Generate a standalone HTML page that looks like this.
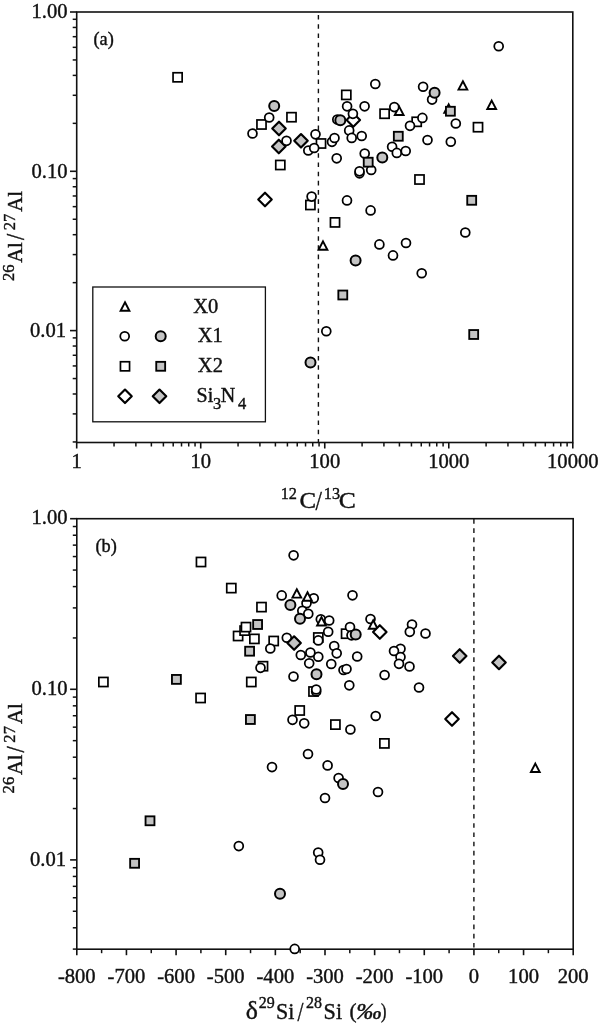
<!DOCTYPE html>
<html><head><meta charset="utf-8"><style>
html,body{margin:0;padding:0;background:#fff;}
svg{display:block;will-change:transform;}
text{font-family:"Liberation Serif",serif;fill:#111;stroke:#111;stroke-width:0.4px;}
</style></head><body>
<svg width="600" height="1026" viewBox="0 0 600 1026">
<rect x="76.7" y="12.0" width="496.10" height="430.50" fill="none" stroke="#111" stroke-width="1.6"/>
<line x1="70.00" y1="12.00" x2="76.7" y2="12.00" stroke="#111" stroke-width="1.6"/>
<line x1="70.00" y1="171.30" x2="76.7" y2="171.30" stroke="#111" stroke-width="1.6"/>
<line x1="70.00" y1="330.60" x2="76.7" y2="330.60" stroke="#111" stroke-width="1.6"/>
<line x1="72.70" y1="123.35" x2="76.7" y2="123.35" stroke="#111" stroke-width="1.5"/>
<line x1="72.70" y1="95.29" x2="76.7" y2="95.29" stroke="#111" stroke-width="1.5"/>
<line x1="72.70" y1="75.39" x2="76.7" y2="75.39" stroke="#111" stroke-width="1.5"/>
<line x1="72.70" y1="59.95" x2="76.7" y2="59.95" stroke="#111" stroke-width="1.5"/>
<line x1="72.70" y1="47.34" x2="76.7" y2="47.34" stroke="#111" stroke-width="1.5"/>
<line x1="72.70" y1="36.68" x2="76.7" y2="36.68" stroke="#111" stroke-width="1.5"/>
<line x1="72.70" y1="27.44" x2="76.7" y2="27.44" stroke="#111" stroke-width="1.5"/>
<line x1="72.70" y1="19.29" x2="76.7" y2="19.29" stroke="#111" stroke-width="1.5"/>
<line x1="72.70" y1="282.65" x2="76.7" y2="282.65" stroke="#111" stroke-width="1.5"/>
<line x1="72.70" y1="254.59" x2="76.7" y2="254.59" stroke="#111" stroke-width="1.5"/>
<line x1="72.70" y1="234.69" x2="76.7" y2="234.69" stroke="#111" stroke-width="1.5"/>
<line x1="72.70" y1="219.25" x2="76.7" y2="219.25" stroke="#111" stroke-width="1.5"/>
<line x1="72.70" y1="206.64" x2="76.7" y2="206.64" stroke="#111" stroke-width="1.5"/>
<line x1="72.70" y1="195.98" x2="76.7" y2="195.98" stroke="#111" stroke-width="1.5"/>
<line x1="72.70" y1="186.74" x2="76.7" y2="186.74" stroke="#111" stroke-width="1.5"/>
<line x1="72.70" y1="178.59" x2="76.7" y2="178.59" stroke="#111" stroke-width="1.5"/>
<line x1="72.70" y1="441.95" x2="76.7" y2="441.95" stroke="#111" stroke-width="1.5"/>
<line x1="72.70" y1="413.89" x2="76.7" y2="413.89" stroke="#111" stroke-width="1.5"/>
<line x1="72.70" y1="393.99" x2="76.7" y2="393.99" stroke="#111" stroke-width="1.5"/>
<line x1="72.70" y1="378.55" x2="76.7" y2="378.55" stroke="#111" stroke-width="1.5"/>
<line x1="72.70" y1="365.94" x2="76.7" y2="365.94" stroke="#111" stroke-width="1.5"/>
<line x1="72.70" y1="355.28" x2="76.7" y2="355.28" stroke="#111" stroke-width="1.5"/>
<line x1="72.70" y1="346.04" x2="76.7" y2="346.04" stroke="#111" stroke-width="1.5"/>
<line x1="72.70" y1="337.89" x2="76.7" y2="337.89" stroke="#111" stroke-width="1.5"/>
<line x1="76.70" y1="442.5" x2="76.70" y2="448.50" stroke="#111" stroke-width="1.6"/>
<line x1="200.72" y1="442.5" x2="200.72" y2="448.50" stroke="#111" stroke-width="1.6"/>
<line x1="324.75" y1="442.5" x2="324.75" y2="448.50" stroke="#111" stroke-width="1.6"/>
<line x1="448.77" y1="442.5" x2="448.77" y2="448.50" stroke="#111" stroke-width="1.6"/>
<line x1="572.80" y1="442.5" x2="572.80" y2="448.50" stroke="#111" stroke-width="1.6"/>
<line x1="114.04" y1="442.5" x2="114.04" y2="446.50" stroke="#111" stroke-width="1.5"/>
<line x1="135.87" y1="442.5" x2="135.87" y2="446.50" stroke="#111" stroke-width="1.5"/>
<line x1="151.37" y1="442.5" x2="151.37" y2="446.50" stroke="#111" stroke-width="1.5"/>
<line x1="163.39" y1="442.5" x2="163.39" y2="446.50" stroke="#111" stroke-width="1.5"/>
<line x1="173.21" y1="442.5" x2="173.21" y2="446.50" stroke="#111" stroke-width="1.5"/>
<line x1="181.51" y1="442.5" x2="181.51" y2="446.50" stroke="#111" stroke-width="1.5"/>
<line x1="188.71" y1="442.5" x2="188.71" y2="446.50" stroke="#111" stroke-width="1.5"/>
<line x1="195.05" y1="442.5" x2="195.05" y2="446.50" stroke="#111" stroke-width="1.5"/>
<line x1="238.06" y1="442.5" x2="238.06" y2="446.50" stroke="#111" stroke-width="1.5"/>
<line x1="259.90" y1="442.5" x2="259.90" y2="446.50" stroke="#111" stroke-width="1.5"/>
<line x1="275.40" y1="442.5" x2="275.40" y2="446.50" stroke="#111" stroke-width="1.5"/>
<line x1="287.41" y1="442.5" x2="287.41" y2="446.50" stroke="#111" stroke-width="1.5"/>
<line x1="297.24" y1="442.5" x2="297.24" y2="446.50" stroke="#111" stroke-width="1.5"/>
<line x1="305.54" y1="442.5" x2="305.54" y2="446.50" stroke="#111" stroke-width="1.5"/>
<line x1="312.73" y1="442.5" x2="312.73" y2="446.50" stroke="#111" stroke-width="1.5"/>
<line x1="319.07" y1="442.5" x2="319.07" y2="446.50" stroke="#111" stroke-width="1.5"/>
<line x1="362.09" y1="442.5" x2="362.09" y2="446.50" stroke="#111" stroke-width="1.5"/>
<line x1="383.92" y1="442.5" x2="383.92" y2="446.50" stroke="#111" stroke-width="1.5"/>
<line x1="399.42" y1="442.5" x2="399.42" y2="446.50" stroke="#111" stroke-width="1.5"/>
<line x1="411.44" y1="442.5" x2="411.44" y2="446.50" stroke="#111" stroke-width="1.5"/>
<line x1="421.26" y1="442.5" x2="421.26" y2="446.50" stroke="#111" stroke-width="1.5"/>
<line x1="429.56" y1="442.5" x2="429.56" y2="446.50" stroke="#111" stroke-width="1.5"/>
<line x1="436.76" y1="442.5" x2="436.76" y2="446.50" stroke="#111" stroke-width="1.5"/>
<line x1="443.10" y1="442.5" x2="443.10" y2="446.50" stroke="#111" stroke-width="1.5"/>
<line x1="486.11" y1="442.5" x2="486.11" y2="446.50" stroke="#111" stroke-width="1.5"/>
<line x1="507.95" y1="442.5" x2="507.95" y2="446.50" stroke="#111" stroke-width="1.5"/>
<line x1="523.45" y1="442.5" x2="523.45" y2="446.50" stroke="#111" stroke-width="1.5"/>
<line x1="535.46" y1="442.5" x2="535.46" y2="446.50" stroke="#111" stroke-width="1.5"/>
<line x1="545.29" y1="442.5" x2="545.29" y2="446.50" stroke="#111" stroke-width="1.5"/>
<line x1="553.59" y1="442.5" x2="553.59" y2="446.50" stroke="#111" stroke-width="1.5"/>
<line x1="560.78" y1="442.5" x2="560.78" y2="446.50" stroke="#111" stroke-width="1.5"/>
<line x1="567.12" y1="442.5" x2="567.12" y2="446.50" stroke="#111" stroke-width="1.5"/>
<text x="67.6" y="18.0" font-size="20.6" text-anchor="end" >1.00</text>
<text x="67.6" y="178.10000000000002" font-size="20.6" text-anchor="end" >0.10</text>
<text x="66.0" y="336.8" font-size="20.6" text-anchor="end" >0.01</text>
<text x="76.7" y="467.5" font-size="20.6" text-anchor="middle" >1</text>
<text x="200.725" y="467.5" font-size="20.6" text-anchor="middle" >10</text>
<text x="324.75" y="467.5" font-size="20.6" text-anchor="middle" >100</text>
<text x="448.775" y="467.5" font-size="20.6" text-anchor="middle" >1000</text>
<text x="572.8" y="467.5" font-size="20.6" text-anchor="middle" >10000</text>
<line x1="318.4" y1="15" x2="318.4" y2="442.5" stroke="#111" stroke-width="1.4" stroke-dasharray="4.6 4.615"/>
<text x="93.5" y="45.3" font-size="18.3" text-anchor="start" >(a)</text>
<rect x="92.8" y="287" width="172.6" height="134.8" fill="#fff" stroke="#111" stroke-width="1.3"/>
<path d="M125.00 302.30L129.40 310.70L120.60 310.70Z" fill="#fff" stroke="#000" stroke-width="1.9" stroke-linejoin="miter" stroke-miterlimit="10"/>
<circle cx="124.7" cy="336.3" r="4.45" fill="#fff" stroke="#000" stroke-width="1.75"/>
<circle cx="160.7" cy="336.3" r="5.0" fill="#c4c4c4" stroke="#000" stroke-width="2.0"/>
<rect x="120.45" y="361.75" width="9.1" height="9.1" fill="#fff" stroke="#000" stroke-width="1.7"/>
<rect x="156.25" y="361.85" width="8.9" height="8.9" fill="#c4c4c4" stroke="#000" stroke-width="1.85"/>
<path d="M125.00 389.55L131.75 396.30L125.00 403.05L118.25 396.30Z" fill="#fff" stroke="#000" stroke-width="2.15" stroke-linejoin="round"/>
<path d="M159.50 389.55L166.25 396.30L159.50 403.05L152.75 396.30Z" fill="#c4c4c4" stroke="#000" stroke-width="2.15" stroke-linejoin="round"/>
<text transform="translate(193.25 312.60)" font-size="20.50">X0</text>
<text transform="translate(197.65 342.30)" font-size="20.50">X1</text>
<text transform="translate(197.85 372.30)" font-size="20.50">X2</text>
<text transform="translate(196.56 402.10)" font-size="20.00">Si</text>
<text transform="translate(213.11 408.94)" font-size="16.50">3</text>
<text transform="translate(220.82 402.10)" font-size="20.00">N</text>
<text transform="translate(238.08 409.10)" font-size="16.50">4</text>
<path d="M265.00 192.75L271.75 199.50L265.00 206.25L258.25 199.50Z" fill="#fff" stroke="#000" stroke-width="2.15" stroke-linejoin="round"/>
<path d="M353.30 113.25L360.05 120.00L353.30 126.75L346.55 120.00Z" fill="#fff" stroke="#000" stroke-width="2.15" stroke-linejoin="round"/>
<path d="M462.90 81.20L467.30 89.60L458.50 89.60Z" fill="#fff" stroke="#000" stroke-width="1.9" stroke-linejoin="miter" stroke-miterlimit="10"/>
<path d="M491.70 100.60L496.10 109.00L487.30 109.00Z" fill="#fff" stroke="#000" stroke-width="1.9" stroke-linejoin="miter" stroke-miterlimit="10"/>
<path d="M399.20 106.60L403.60 115.00L394.80 115.00Z" fill="#fff" stroke="#000" stroke-width="1.9" stroke-linejoin="miter" stroke-miterlimit="10"/>
<path d="M448.70 104.40L453.10 112.80L444.30 112.80Z" fill="#fff" stroke="#000" stroke-width="1.9" stroke-linejoin="miter" stroke-miterlimit="10"/>
<path d="M323.00 241.40L327.40 249.80L318.60 249.80Z" fill="#fff" stroke="#000" stroke-width="1.9" stroke-linejoin="miter" stroke-miterlimit="10"/>
<path d="M279.00 121.75L285.75 128.50L279.00 135.25L272.25 128.50Z" fill="#c4c4c4" stroke="#000" stroke-width="2.15" stroke-linejoin="round"/>
<path d="M278.80 139.75L285.55 146.50L278.80 153.25L272.05 146.50Z" fill="#c4c4c4" stroke="#000" stroke-width="2.15" stroke-linejoin="round"/>
<path d="M301.00 134.05L307.75 140.80L301.00 147.55L294.25 140.80Z" fill="#c4c4c4" stroke="#000" stroke-width="2.15" stroke-linejoin="round"/>
<rect x="173.05" y="72.75" width="9.1" height="9.1" fill="#fff" stroke="#000" stroke-width="1.7"/>
<rect x="341.75" y="90.35" width="9.1" height="9.1" fill="#fff" stroke="#000" stroke-width="1.7"/>
<rect x="286.95" y="112.65" width="9.1" height="9.1" fill="#fff" stroke="#000" stroke-width="1.7"/>
<rect x="256.95" y="119.95" width="9.1" height="9.1" fill="#fff" stroke="#000" stroke-width="1.7"/>
<rect x="380.05" y="109.20" width="9.1" height="9.1" fill="#fff" stroke="#000" stroke-width="1.7"/>
<rect x="412.15" y="117.25" width="9.1" height="9.1" fill="#fff" stroke="#000" stroke-width="1.7"/>
<rect x="316.45" y="138.95" width="9.1" height="9.1" fill="#fff" stroke="#000" stroke-width="1.7"/>
<rect x="473.45" y="122.65" width="9.1" height="9.1" fill="#fff" stroke="#000" stroke-width="1.7"/>
<rect x="275.75" y="160.45" width="9.1" height="9.1" fill="#fff" stroke="#000" stroke-width="1.7"/>
<rect x="414.95" y="174.95" width="9.1" height="9.1" fill="#fff" stroke="#000" stroke-width="1.7"/>
<rect x="305.85" y="200.45" width="9.1" height="9.1" fill="#fff" stroke="#000" stroke-width="1.7"/>
<rect x="330.45" y="217.85" width="9.1" height="9.1" fill="#fff" stroke="#000" stroke-width="1.7"/>
<circle cx="498.7" cy="46.2" r="4.45" fill="#fff" stroke="#000" stroke-width="1.75"/>
<circle cx="375.3" cy="84" r="4.45" fill="#fff" stroke="#000" stroke-width="1.75"/>
<circle cx="423.1" cy="86.7" r="4.45" fill="#fff" stroke="#000" stroke-width="1.75"/>
<circle cx="432.1" cy="99.6" r="4.45" fill="#fff" stroke="#000" stroke-width="1.75"/>
<circle cx="347.1" cy="106.3" r="4.45" fill="#fff" stroke="#000" stroke-width="1.75"/>
<circle cx="364.6" cy="106.3" r="4.45" fill="#fff" stroke="#000" stroke-width="1.75"/>
<circle cx="394.3" cy="107.1" r="4.45" fill="#fff" stroke="#000" stroke-width="1.75"/>
<circle cx="352.9" cy="113.8" r="4.45" fill="#fff" stroke="#000" stroke-width="1.75"/>
<circle cx="422.4" cy="117.9" r="4.45" fill="#fff" stroke="#000" stroke-width="1.75"/>
<circle cx="410" cy="125.8" r="4.45" fill="#fff" stroke="#000" stroke-width="1.75"/>
<circle cx="455.8" cy="123.5" r="4.45" fill="#fff" stroke="#000" stroke-width="1.75"/>
<circle cx="269.2" cy="117.5" r="4.45" fill="#fff" stroke="#000" stroke-width="1.75"/>
<circle cx="252.5" cy="133.5" r="4.45" fill="#fff" stroke="#000" stroke-width="1.75"/>
<circle cx="286.5" cy="140.8" r="4.45" fill="#fff" stroke="#000" stroke-width="1.75"/>
<circle cx="315.5" cy="134.3" r="4.45" fill="#fff" stroke="#000" stroke-width="1.75"/>
<circle cx="308.3" cy="150.5" r="4.45" fill="#fff" stroke="#000" stroke-width="1.75"/>
<circle cx="314.2" cy="148" r="4.45" fill="#fff" stroke="#000" stroke-width="1.75"/>
<circle cx="332" cy="141.8" r="4.45" fill="#fff" stroke="#000" stroke-width="1.75"/>
<circle cx="334.5" cy="138" r="4.45" fill="#fff" stroke="#000" stroke-width="1.75"/>
<circle cx="337.3" cy="119.5" r="4.45" fill="#fff" stroke="#000" stroke-width="1.75"/>
<circle cx="349.2" cy="130.4" r="4.45" fill="#fff" stroke="#000" stroke-width="1.75"/>
<circle cx="351.7" cy="137.9" r="4.45" fill="#fff" stroke="#000" stroke-width="1.75"/>
<circle cx="361.7" cy="136" r="4.45" fill="#fff" stroke="#000" stroke-width="1.75"/>
<circle cx="336.7" cy="158.3" r="4.45" fill="#fff" stroke="#000" stroke-width="1.75"/>
<circle cx="364.7" cy="153.5" r="4.45" fill="#fff" stroke="#000" stroke-width="1.75"/>
<circle cx="371.2" cy="170" r="4.45" fill="#fff" stroke="#000" stroke-width="1.75"/>
<circle cx="359.5" cy="173.3" r="4.45" fill="#fff" stroke="#000" stroke-width="1.75"/>
<circle cx="359.5" cy="171.3" r="4.45" fill="#fff" stroke="#000" stroke-width="1.75"/>
<circle cx="392.1" cy="146.7" r="4.45" fill="#fff" stroke="#000" stroke-width="1.75"/>
<circle cx="396.8" cy="152.9" r="4.45" fill="#fff" stroke="#000" stroke-width="1.75"/>
<circle cx="405.7" cy="151" r="4.45" fill="#fff" stroke="#000" stroke-width="1.75"/>
<circle cx="427.5" cy="140" r="4.45" fill="#fff" stroke="#000" stroke-width="1.75"/>
<circle cx="450.8" cy="141.7" r="4.45" fill="#fff" stroke="#000" stroke-width="1.75"/>
<circle cx="311.6" cy="196.6" r="4.45" fill="#fff" stroke="#000" stroke-width="1.75"/>
<circle cx="347" cy="200.4" r="4.45" fill="#fff" stroke="#000" stroke-width="1.75"/>
<circle cx="370.6" cy="210.4" r="4.45" fill="#fff" stroke="#000" stroke-width="1.75"/>
<circle cx="379.4" cy="244.4" r="4.45" fill="#fff" stroke="#000" stroke-width="1.75"/>
<circle cx="406" cy="243" r="4.45" fill="#fff" stroke="#000" stroke-width="1.75"/>
<circle cx="393" cy="255.4" r="4.45" fill="#fff" stroke="#000" stroke-width="1.75"/>
<circle cx="465.3" cy="232.5" r="4.45" fill="#fff" stroke="#000" stroke-width="1.75"/>
<circle cx="421.7" cy="273.3" r="4.45" fill="#fff" stroke="#000" stroke-width="1.75"/>
<circle cx="326.3" cy="331.3" r="4.45" fill="#fff" stroke="#000" stroke-width="1.75"/>
<circle cx="340.3" cy="120.3" r="5.0" fill="#c4c4c4" stroke="#000" stroke-width="2.0"/>
<circle cx="274.2" cy="106" r="5.0" fill="#c4c4c4" stroke="#000" stroke-width="2.0"/>
<circle cx="434.6" cy="92.7" r="5.0" fill="#c4c4c4" stroke="#000" stroke-width="2.0"/>
<circle cx="382.3" cy="157.5" r="5.0" fill="#c4c4c4" stroke="#000" stroke-width="2.0"/>
<circle cx="355.6" cy="260.4" r="5.0" fill="#c4c4c4" stroke="#000" stroke-width="2.0"/>
<circle cx="310.5" cy="362.5" r="5.0" fill="#c4c4c4" stroke="#000" stroke-width="2.0"/>
<rect x="445.95" y="106.80" width="8.9" height="8.9" fill="#c4c4c4" stroke="#000" stroke-width="1.85"/>
<rect x="393.85" y="131.80" width="8.9" height="8.9" fill="#c4c4c4" stroke="#000" stroke-width="1.85"/>
<rect x="363.75" y="157.75" width="8.9" height="8.9" fill="#c4c4c4" stroke="#000" stroke-width="1.85"/>
<rect x="467.25" y="195.85" width="8.9" height="8.9" fill="#c4c4c4" stroke="#000" stroke-width="1.85"/>
<rect x="338.35" y="290.55" width="8.9" height="8.9" fill="#c4c4c4" stroke="#000" stroke-width="1.85"/>
<rect x="469.25" y="330.05" width="8.9" height="8.9" fill="#c4c4c4" stroke="#000" stroke-width="1.85"/>
<text transform="translate(280.67 499.20)" font-size="16.30">12</text>
<text transform="translate(299.38 507.98) scale(1.1218 1.0000)" font-size="22.18">C</text>
<text transform="translate(315.40 509.93) scale(0.8240 1.0000)" font-size="27.95">/</text>
<text transform="translate(323.87 499.04)" font-size="16.30">13</text>
<text transform="translate(338.65 507.98) scale(1.1534 1.0000)" font-size="22.18">C</text>
<g transform="translate(22 280.75) rotate(-90)">
<text transform="translate(-0.33 -7.56)" font-size="16.60">26</text>
<text transform="translate(17.95 -0.20) scale(0.9739 1.0000)" font-size="21.11">Al</text>
<text transform="translate(40.65 1.85) scale(0.8679 1.0000)" font-size="25.71">/</text>
<text transform="translate(50.42 -7.40)" font-size="16.60">27</text>
<text transform="translate(68.95 -0.20) scale(0.9861 1.0000)" font-size="21.11">Al</text>
</g>
<rect x="76.8" y="518.7" width="496.40" height="430.50" fill="none" stroke="#111" stroke-width="1.6"/>
<line x1="70.10" y1="518.70" x2="76.8" y2="518.70" stroke="#111" stroke-width="1.6"/>
<line x1="70.10" y1="689.30" x2="76.8" y2="689.30" stroke="#111" stroke-width="1.6"/>
<line x1="70.10" y1="859.90" x2="76.8" y2="859.90" stroke="#111" stroke-width="1.6"/>
<line x1="72.80" y1="637.94" x2="76.8" y2="637.94" stroke="#111" stroke-width="1.5"/>
<line x1="72.80" y1="607.90" x2="76.8" y2="607.90" stroke="#111" stroke-width="1.5"/>
<line x1="72.80" y1="586.59" x2="76.8" y2="586.59" stroke="#111" stroke-width="1.5"/>
<line x1="72.80" y1="570.06" x2="76.8" y2="570.06" stroke="#111" stroke-width="1.5"/>
<line x1="72.80" y1="556.55" x2="76.8" y2="556.55" stroke="#111" stroke-width="1.5"/>
<line x1="72.80" y1="545.13" x2="76.8" y2="545.13" stroke="#111" stroke-width="1.5"/>
<line x1="72.80" y1="535.23" x2="76.8" y2="535.23" stroke="#111" stroke-width="1.5"/>
<line x1="72.80" y1="526.51" x2="76.8" y2="526.51" stroke="#111" stroke-width="1.5"/>
<line x1="72.80" y1="808.54" x2="76.8" y2="808.54" stroke="#111" stroke-width="1.5"/>
<line x1="72.80" y1="778.50" x2="76.8" y2="778.50" stroke="#111" stroke-width="1.5"/>
<line x1="72.80" y1="757.19" x2="76.8" y2="757.19" stroke="#111" stroke-width="1.5"/>
<line x1="72.80" y1="740.66" x2="76.8" y2="740.66" stroke="#111" stroke-width="1.5"/>
<line x1="72.80" y1="727.15" x2="76.8" y2="727.15" stroke="#111" stroke-width="1.5"/>
<line x1="72.80" y1="715.73" x2="76.8" y2="715.73" stroke="#111" stroke-width="1.5"/>
<line x1="72.80" y1="705.83" x2="76.8" y2="705.83" stroke="#111" stroke-width="1.5"/>
<line x1="72.80" y1="697.11" x2="76.8" y2="697.11" stroke="#111" stroke-width="1.5"/>
<line x1="72.80" y1="949.10" x2="76.8" y2="949.10" stroke="#111" stroke-width="1.5"/>
<line x1="72.80" y1="927.79" x2="76.8" y2="927.79" stroke="#111" stroke-width="1.5"/>
<line x1="72.80" y1="911.26" x2="76.8" y2="911.26" stroke="#111" stroke-width="1.5"/>
<line x1="72.80" y1="897.75" x2="76.8" y2="897.75" stroke="#111" stroke-width="1.5"/>
<line x1="72.80" y1="886.33" x2="76.8" y2="886.33" stroke="#111" stroke-width="1.5"/>
<line x1="72.80" y1="876.43" x2="76.8" y2="876.43" stroke="#111" stroke-width="1.5"/>
<line x1="72.80" y1="867.71" x2="76.8" y2="867.71" stroke="#111" stroke-width="1.5"/>
<line x1="76.80" y1="949.2" x2="76.80" y2="955.20" stroke="#111" stroke-width="1.6"/>
<line x1="126.44" y1="949.2" x2="126.44" y2="955.20" stroke="#111" stroke-width="1.6"/>
<line x1="176.08" y1="949.2" x2="176.08" y2="955.20" stroke="#111" stroke-width="1.6"/>
<line x1="225.72" y1="949.2" x2="225.72" y2="955.20" stroke="#111" stroke-width="1.6"/>
<line x1="275.36" y1="949.2" x2="275.36" y2="955.20" stroke="#111" stroke-width="1.6"/>
<line x1="325.00" y1="949.2" x2="325.00" y2="955.20" stroke="#111" stroke-width="1.6"/>
<line x1="374.64" y1="949.2" x2="374.64" y2="955.20" stroke="#111" stroke-width="1.6"/>
<line x1="424.28" y1="949.2" x2="424.28" y2="955.20" stroke="#111" stroke-width="1.6"/>
<line x1="473.92" y1="949.2" x2="473.92" y2="955.20" stroke="#111" stroke-width="1.6"/>
<line x1="523.56" y1="949.2" x2="523.56" y2="955.20" stroke="#111" stroke-width="1.6"/>
<line x1="573.20" y1="949.2" x2="573.20" y2="955.20" stroke="#111" stroke-width="1.6"/>
<line x1="101.62" y1="949.2" x2="101.62" y2="953.20" stroke="#111" stroke-width="1.5"/>
<line x1="151.26" y1="949.2" x2="151.26" y2="953.20" stroke="#111" stroke-width="1.5"/>
<line x1="200.90" y1="949.2" x2="200.90" y2="953.20" stroke="#111" stroke-width="1.5"/>
<line x1="250.54" y1="949.2" x2="250.54" y2="953.20" stroke="#111" stroke-width="1.5"/>
<line x1="300.18" y1="949.2" x2="300.18" y2="953.20" stroke="#111" stroke-width="1.5"/>
<line x1="349.82" y1="949.2" x2="349.82" y2="953.20" stroke="#111" stroke-width="1.5"/>
<line x1="399.46" y1="949.2" x2="399.46" y2="953.20" stroke="#111" stroke-width="1.5"/>
<line x1="449.10" y1="949.2" x2="449.10" y2="953.20" stroke="#111" stroke-width="1.5"/>
<line x1="498.74" y1="949.2" x2="498.74" y2="953.20" stroke="#111" stroke-width="1.5"/>
<line x1="548.38" y1="949.2" x2="548.38" y2="953.20" stroke="#111" stroke-width="1.5"/>
<text x="67.6" y="523.7" font-size="20.6" text-anchor="end" >1.00</text>
<text x="67.6" y="695.4000000000001" font-size="20.6" text-anchor="end" >0.10</text>
<text x="66.0" y="866.3000000000001" font-size="20.6" text-anchor="end" >0.01</text>
<text x="76.8" y="982.7" font-size="20.6" text-anchor="middle" >-800</text>
<text x="126.44" y="982.7" font-size="20.6" text-anchor="middle" >-700</text>
<text x="176.07999999999998" y="982.7" font-size="20.6" text-anchor="middle" >-600</text>
<text x="225.71999999999997" y="982.7" font-size="20.6" text-anchor="middle" >-500</text>
<text x="275.36" y="982.7" font-size="20.6" text-anchor="middle" >-400</text>
<text x="325.0" y="982.7" font-size="20.6" text-anchor="middle" >-300</text>
<text x="374.64" y="982.7" font-size="20.6" text-anchor="middle" >-200</text>
<text x="424.28000000000003" y="982.7" font-size="20.6" text-anchor="middle" >-100</text>
<text x="473.92" y="982.7" font-size="20.6" text-anchor="middle" >0</text>
<text x="523.5600000000001" y="982.7" font-size="20.6" text-anchor="middle" >100</text>
<text x="573.2" y="982.7" font-size="20.6" text-anchor="middle" >200</text>
<line x1="473.9" y1="519.1" x2="473.9" y2="949.2" stroke="#111" stroke-width="1.4" stroke-dasharray="4.6 4.615"/>
<text x="95.5" y="552.3" font-size="18.3" text-anchor="start" >(b)</text>
<rect x="196.45" y="557.45" width="9.1" height="9.1" fill="#fff" stroke="#000" stroke-width="1.7"/>
<rect x="226.75" y="583.55" width="9.1" height="9.1" fill="#fff" stroke="#000" stroke-width="1.7"/>
<rect x="256.95" y="602.55" width="9.1" height="9.1" fill="#fff" stroke="#000" stroke-width="1.7"/>
<rect x="233.55" y="631.45" width="9.1" height="9.1" fill="#fff" stroke="#000" stroke-width="1.7"/>
<rect x="240.05" y="626.05" width="9.1" height="9.1" fill="#fff" stroke="#000" stroke-width="1.7"/>
<rect x="241.45" y="622.55" width="9.1" height="9.1" fill="#fff" stroke="#000" stroke-width="1.7"/>
<rect x="249.85" y="634.35" width="9.1" height="9.1" fill="#fff" stroke="#000" stroke-width="1.7"/>
<rect x="269.15" y="636.45" width="9.1" height="9.1" fill="#fff" stroke="#000" stroke-width="1.7"/>
<rect x="313.75" y="632.95" width="9.1" height="9.1" fill="#fff" stroke="#000" stroke-width="1.7"/>
<rect x="341.55" y="629.15" width="9.1" height="9.1" fill="#fff" stroke="#000" stroke-width="1.7"/>
<rect x="258.45" y="661.65" width="9.1" height="9.1" fill="#fff" stroke="#000" stroke-width="1.7"/>
<rect x="246.75" y="677.45" width="9.1" height="9.1" fill="#fff" stroke="#000" stroke-width="1.7"/>
<rect x="98.85" y="677.45" width="9.1" height="9.1" fill="#fff" stroke="#000" stroke-width="1.7"/>
<rect x="196.05" y="693.45" width="9.1" height="9.1" fill="#fff" stroke="#000" stroke-width="1.7"/>
<rect x="308.95" y="686.95" width="9.1" height="9.1" fill="#fff" stroke="#000" stroke-width="1.7"/>
<rect x="295.15" y="705.95" width="9.1" height="9.1" fill="#fff" stroke="#000" stroke-width="1.7"/>
<rect x="330.85" y="720.05" width="9.1" height="9.1" fill="#fff" stroke="#000" stroke-width="1.7"/>
<rect x="379.85" y="738.85" width="9.1" height="9.1" fill="#fff" stroke="#000" stroke-width="1.7"/>
<circle cx="293.6" cy="555.3" r="4.45" fill="#fff" stroke="#000" stroke-width="1.75"/>
<circle cx="281.7" cy="595.4" r="4.45" fill="#fff" stroke="#000" stroke-width="1.75"/>
<circle cx="313.75" cy="598.3" r="4.45" fill="#fff" stroke="#000" stroke-width="1.75"/>
<circle cx="306.5" cy="603.2" r="4.45" fill="#fff" stroke="#000" stroke-width="1.75"/>
<circle cx="302.3" cy="610.8" r="4.45" fill="#fff" stroke="#000" stroke-width="1.75"/>
<circle cx="308.3" cy="613.75" r="4.45" fill="#fff" stroke="#000" stroke-width="1.75"/>
<circle cx="320.8" cy="619.2" r="4.45" fill="#fff" stroke="#000" stroke-width="1.75"/>
<circle cx="329.2" cy="620.5" r="4.45" fill="#fff" stroke="#000" stroke-width="1.75"/>
<circle cx="328.2" cy="631.7" r="4.45" fill="#fff" stroke="#000" stroke-width="1.75"/>
<circle cx="350" cy="627.1" r="4.45" fill="#fff" stroke="#000" stroke-width="1.75"/>
<circle cx="351.5" cy="635.3" r="4.45" fill="#fff" stroke="#000" stroke-width="1.75"/>
<circle cx="352.5" cy="595.3" r="4.45" fill="#fff" stroke="#000" stroke-width="1.75"/>
<circle cx="370.5" cy="619" r="4.45" fill="#fff" stroke="#000" stroke-width="1.75"/>
<circle cx="412" cy="624.5" r="4.45" fill="#fff" stroke="#000" stroke-width="1.75"/>
<circle cx="409.8" cy="631.8" r="4.45" fill="#fff" stroke="#000" stroke-width="1.75"/>
<circle cx="425.5" cy="633.5" r="4.45" fill="#fff" stroke="#000" stroke-width="1.75"/>
<circle cx="400.5" cy="648.8" r="4.45" fill="#fff" stroke="#000" stroke-width="1.75"/>
<circle cx="394" cy="651" r="4.45" fill="#fff" stroke="#000" stroke-width="1.75"/>
<circle cx="400.5" cy="657" r="4.45" fill="#fff" stroke="#000" stroke-width="1.75"/>
<circle cx="399" cy="663.8" r="4.45" fill="#fff" stroke="#000" stroke-width="1.75"/>
<circle cx="409.5" cy="666.5" r="4.45" fill="#fff" stroke="#000" stroke-width="1.75"/>
<circle cx="419" cy="687.5" r="4.45" fill="#fff" stroke="#000" stroke-width="1.75"/>
<circle cx="384.6" cy="675" r="4.45" fill="#fff" stroke="#000" stroke-width="1.75"/>
<circle cx="357.2" cy="656.5" r="4.45" fill="#fff" stroke="#000" stroke-width="1.75"/>
<circle cx="343.5" cy="670" r="4.45" fill="#fff" stroke="#000" stroke-width="1.75"/>
<circle cx="346.5" cy="669" r="4.45" fill="#fff" stroke="#000" stroke-width="1.75"/>
<circle cx="349.3" cy="685.3" r="4.45" fill="#fff" stroke="#000" stroke-width="1.75"/>
<circle cx="334.2" cy="646" r="4.45" fill="#fff" stroke="#000" stroke-width="1.75"/>
<circle cx="336.7" cy="653.3" r="4.45" fill="#fff" stroke="#000" stroke-width="1.75"/>
<circle cx="318.3" cy="656.7" r="4.45" fill="#fff" stroke="#000" stroke-width="1.75"/>
<circle cx="310.4" cy="652.5" r="4.45" fill="#fff" stroke="#000" stroke-width="1.75"/>
<circle cx="300.8" cy="655" r="4.45" fill="#fff" stroke="#000" stroke-width="1.75"/>
<circle cx="309.2" cy="663.3" r="4.45" fill="#fff" stroke="#000" stroke-width="1.75"/>
<circle cx="331.25" cy="664" r="4.45" fill="#fff" stroke="#000" stroke-width="1.75"/>
<circle cx="286.8" cy="637.7" r="4.45" fill="#fff" stroke="#000" stroke-width="1.75"/>
<circle cx="270.3" cy="648.5" r="4.45" fill="#fff" stroke="#000" stroke-width="1.75"/>
<circle cx="293.5" cy="676.5" r="4.45" fill="#fff" stroke="#000" stroke-width="1.75"/>
<circle cx="316.2" cy="691.5" r="4.45" fill="#fff" stroke="#000" stroke-width="1.75"/>
<circle cx="316.2" cy="689.5" r="4.45" fill="#fff" stroke="#000" stroke-width="1.75"/>
<circle cx="292.5" cy="719.8" r="4.45" fill="#fff" stroke="#000" stroke-width="1.75"/>
<circle cx="304.2" cy="723.3" r="4.45" fill="#fff" stroke="#000" stroke-width="1.75"/>
<circle cx="350.4" cy="729.5" r="4.45" fill="#fff" stroke="#000" stroke-width="1.75"/>
<circle cx="375.7" cy="716" r="4.45" fill="#fff" stroke="#000" stroke-width="1.75"/>
<circle cx="308" cy="754" r="4.45" fill="#fff" stroke="#000" stroke-width="1.75"/>
<circle cx="272" cy="767.1" r="4.45" fill="#fff" stroke="#000" stroke-width="1.75"/>
<circle cx="327.6" cy="765.4" r="4.45" fill="#fff" stroke="#000" stroke-width="1.75"/>
<circle cx="338.6" cy="778" r="4.45" fill="#fff" stroke="#000" stroke-width="1.75"/>
<circle cx="325" cy="798" r="4.45" fill="#fff" stroke="#000" stroke-width="1.75"/>
<circle cx="378" cy="792" r="4.45" fill="#fff" stroke="#000" stroke-width="1.75"/>
<circle cx="238.8" cy="846.1" r="4.45" fill="#fff" stroke="#000" stroke-width="1.75"/>
<circle cx="318.2" cy="852.6" r="4.45" fill="#fff" stroke="#000" stroke-width="1.75"/>
<circle cx="320" cy="859.7" r="4.45" fill="#fff" stroke="#000" stroke-width="1.75"/>
<circle cx="294.7" cy="948.9" r="4.45" fill="#fff" stroke="#000" stroke-width="1.75"/>
<circle cx="318.3" cy="640.4" r="4.45" fill="#fff" stroke="#000" stroke-width="1.75"/>
<circle cx="260.5" cy="667.8" r="4.45" fill="#fff" stroke="#000" stroke-width="1.75"/>
<rect x="253.15" y="620.05" width="8.9" height="8.9" fill="#c4c4c4" stroke="#000" stroke-width="1.85"/>
<rect x="245.15" y="646.75" width="8.9" height="8.9" fill="#c4c4c4" stroke="#000" stroke-width="1.85"/>
<rect x="171.95" y="674.95" width="8.9" height="8.9" fill="#c4c4c4" stroke="#000" stroke-width="1.85"/>
<rect x="245.95" y="715.05" width="8.9" height="8.9" fill="#c4c4c4" stroke="#000" stroke-width="1.85"/>
<rect x="145.55" y="816.35" width="8.9" height="8.9" fill="#c4c4c4" stroke="#000" stroke-width="1.85"/>
<rect x="130.15" y="858.85" width="8.9" height="8.9" fill="#c4c4c4" stroke="#000" stroke-width="1.85"/>
<circle cx="290.4" cy="605" r="5.0" fill="#c4c4c4" stroke="#000" stroke-width="2.0"/>
<circle cx="300" cy="618.75" r="5.0" fill="#c4c4c4" stroke="#000" stroke-width="2.0"/>
<circle cx="355.7" cy="634.4" r="5.0" fill="#c4c4c4" stroke="#000" stroke-width="2.0"/>
<circle cx="316.5" cy="674.3" r="5.0" fill="#c4c4c4" stroke="#000" stroke-width="2.0"/>
<circle cx="343" cy="784" r="5.0" fill="#c4c4c4" stroke="#000" stroke-width="2.0"/>
<circle cx="280" cy="893.7" r="5.0" fill="#c4c4c4" stroke="#000" stroke-width="2.0"/>
<path d="M296.80 589.20L301.20 597.60L292.40 597.60Z" fill="#fff" stroke="#000" stroke-width="1.9" stroke-linejoin="miter" stroke-miterlimit="10"/>
<path d="M307.50 592.30L311.90 600.70L303.10 600.70Z" fill="#fff" stroke="#000" stroke-width="1.9" stroke-linejoin="miter" stroke-miterlimit="10"/>
<path d="M321.50 617.10L325.90 625.50L317.10 625.50Z" fill="#fff" stroke="#000" stroke-width="1.9" stroke-linejoin="miter" stroke-miterlimit="10"/>
<path d="M373.20 620.30L377.60 628.70L368.80 628.70Z" fill="#fff" stroke="#000" stroke-width="1.9" stroke-linejoin="miter" stroke-miterlimit="10"/>
<path d="M535.30 763.60L539.70 772.00L530.90 772.00Z" fill="#fff" stroke="#000" stroke-width="1.9" stroke-linejoin="miter" stroke-miterlimit="10"/>
<path d="M379.80 625.25L386.55 632.00L379.80 638.75L373.05 632.00Z" fill="#fff" stroke="#000" stroke-width="2.15" stroke-linejoin="round"/>
<path d="M452.00 712.25L458.75 719.00L452.00 725.75L445.25 719.00Z" fill="#fff" stroke="#000" stroke-width="2.15" stroke-linejoin="round"/>
<path d="M294.10 636.35L300.85 643.10L294.10 649.85L287.35 643.10Z" fill="#c4c4c4" stroke="#000" stroke-width="2.15" stroke-linejoin="round"/>
<path d="M459.70 649.25L466.45 656.00L459.70 662.75L452.95 656.00Z" fill="#c4c4c4" stroke="#000" stroke-width="2.15" stroke-linejoin="round"/>
<path d="M499.00 655.65L505.75 662.40L499.00 669.15L492.25 662.40Z" fill="#c4c4c4" stroke="#000" stroke-width="2.15" stroke-linejoin="round"/>
<text transform="translate(245.73 1019.05) scale(1.0195 1.0000)" font-size="25.26">δ</text>
<text transform="translate(258.70 1008.44)" font-size="16.00">29</text>
<text transform="translate(275.93 1018.87) scale(0.9234 1.0000)" font-size="23.81">Si</text>
<text transform="translate(297.40 1021.09) scale(0.8094 1.0000)" font-size="26.46">/</text>
<text transform="translate(306.00 1008.44)" font-size="16.00">28</text>
<text transform="translate(323.62 1018.87) scale(0.9439 1.0000)" font-size="23.37">Si</text>
<text transform="translate(349.47 1017.78) scale(1.0457 1.0000)" font-size="20.29">(</text>
<text transform="translate(356.37 1019.27) scale(1.0827 1.0000)" font-size="23.41" font-style="italic">‰</text>
<text transform="translate(381.12 1017.78) scale(0.8059 1.0000)" font-size="20.29">)</text>
<g transform="translate(22 793.05) rotate(-90)">
<text transform="translate(-0.33 -7.56)" font-size="16.60">26</text>
<text transform="translate(17.95 -0.20) scale(0.9739 1.0000)" font-size="21.11">Al</text>
<text transform="translate(40.65 1.85) scale(0.8679 1.0000)" font-size="25.71">/</text>
<text transform="translate(50.42 -7.40)" font-size="16.60">27</text>
<text transform="translate(68.95 -0.20) scale(0.9861 1.0000)" font-size="21.11">Al</text>
</g>
</svg>
</body></html>
